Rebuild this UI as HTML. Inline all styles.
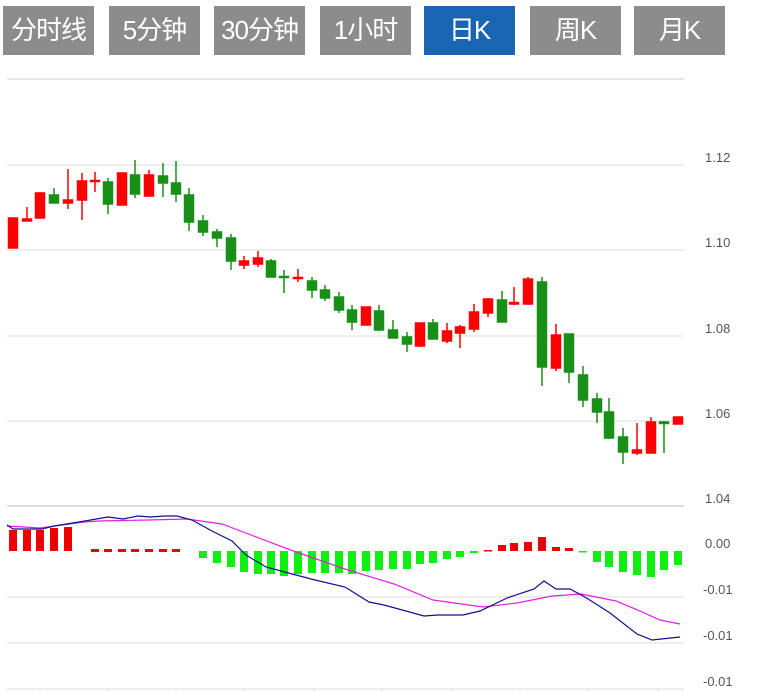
<!DOCTYPE html>
<html><head><meta charset="utf-8"><style>
body{margin:0;background:#fff;width:764px;height:692px;overflow:hidden;position:relative;font-family:"Liberation Sans","Noto Sans CJK SC",sans-serif}
.b{position:absolute;top:6px;height:49px;width:91px;background:#8c8c8c;color:#fff;font-size:26px;line-height:49px;text-align:center;letter-spacing:-1px}
.a{background:#1a64b4}
svg{position:absolute;left:0;top:0}
</style></head><body>
<div class="b" style="left:3px">分时线</div>
<div class="b" style="left:109px">5分钟</div>
<div class="b" style="left:214px">30分钟</div>
<div class="b" style="left:320px">1小时</div>
<div class="b a" style="left:424px">日K</div>
<div class="b" style="left:530px">周K</div>
<div class="b" style="left:634px">月K</div>
<svg width="764" height="692" xmlns="http://www.w3.org/2000/svg">
<g stroke="#ddd" stroke-width="1">
<line x1="7" y1="79" x2="684" y2="79" stroke-width="1.5"/>
<line x1="7" y1="165" x2="684" y2="165"/>
<line x1="7" y1="250" x2="684" y2="250"/>
<line x1="7" y1="336" x2="684" y2="336"/>
<line x1="7" y1="421" x2="684" y2="421"/>
<line x1="7" y1="506" x2="684" y2="506" stroke-width="2"/>
<line x1="7" y1="597" x2="684" y2="597"/>
<line x1="7" y1="643" x2="684" y2="643"/>
<line x1="7" y1="689" x2="684" y2="689"/>
<line x1="40" y1="689" x2="40" y2="692"/><line x1="108" y1="689" x2="108" y2="692"/><line x1="176" y1="689" x2="176" y2="692"/><line x1="245" y1="689" x2="245" y2="692"/><line x1="314" y1="689" x2="314" y2="692"/><line x1="382" y1="689" x2="382" y2="692"/><line x1="451" y1="689" x2="451" y2="692"/><line x1="520" y1="689" x2="520" y2="692"/><line x1="589" y1="689" x2="589" y2="692"/><line x1="658" y1="689" x2="658" y2="692"/>
</g>
<g font-size="13" fill="#555" font-family="Liberation Sans,sans-serif">
<text x="705" y="162">1.12</text><text x="705" y="247">1.10</text><text x="705" y="333">1.08</text><text x="705" y="418">1.06</text><text x="705" y="503">1.04</text>
<text x="705" y="548">0.00</text><text x="703" y="594">-0.01</text><text x="703" y="640">-0.01</text><text x="703" y="686">-0.01</text>
</g>
<g stroke-width="1.5">
<!-- red candles -->
<g fill="#f00" stroke="#f00">
<line x1="13" y1="218" x2="13" y2="248"/><rect x="8.5" y="218" width="9" height="30"/>
<line x1="27" y1="207" x2="27" y2="221"/><rect x="22.5" y="219" width="9" height="2"/>
<line x1="40" y1="192" x2="40" y2="218"/><rect x="35.5" y="193" width="9" height="25"/>
<line x1="68" y1="169" x2="68" y2="209"/><rect x="63.5" y="200" width="9" height="3"/>
<line x1="82" y1="173" x2="82" y2="220"/><rect x="77.5" y="181" width="9" height="19"/>
<line x1="95" y1="172" x2="95" y2="192"/><rect x="90.5" y="180.5" width="9" height="1"/>
<line x1="122" y1="173" x2="122" y2="205"/><rect x="117.5" y="173" width="9" height="32"/>
<line x1="149" y1="170" x2="149" y2="197"/><rect x="144.5" y="175" width="9" height="21"/>
<line x1="244" y1="256" x2="244" y2="269"/><rect x="239.5" y="261" width="9" height="4"/>
<line x1="258" y1="251" x2="258" y2="267"/><rect x="253.5" y="258" width="9" height="6"/>
<line x1="298" y1="269" x2="298" y2="282"/><rect x="293.5" y="277.5" width="9" height="1"/>
<line x1="366" y1="307" x2="366" y2="325"/><rect x="361.5" y="307" width="9" height="18"/>
<line x1="420" y1="323" x2="420" y2="347"/><rect x="415.5" y="323" width="9" height="23"/>
<line x1="447" y1="323" x2="447" y2="343"/><rect x="442.5" y="331" width="9" height="10"/>
<line x1="460" y1="325" x2="460" y2="348"/><rect x="455.5" y="327" width="9" height="6"/>
<line x1="474" y1="304" x2="474" y2="332"/><rect x="469.5" y="312" width="9" height="17"/>
<line x1="488" y1="298" x2="488" y2="317"/><rect x="483.5" y="299" width="9" height="14"/>
<line x1="514" y1="287" x2="514" y2="305"/><rect x="509.5" y="302.5" width="9" height="1.5"/>
<line x1="528" y1="277" x2="528" y2="304"/><rect x="523.5" y="279" width="9" height="25"/>
<line x1="556" y1="324" x2="556" y2="371"/><rect x="551.5" y="335" width="9" height="33"/>
<line x1="637" y1="423" x2="637" y2="455"/><rect x="632.5" y="450" width="9" height="3"/>
<line x1="651" y1="417" x2="651" y2="453"/><rect x="646.5" y="422" width="9" height="31"/>
<rect x="673.5" y="417" width="9" height="7"/>
</g>
<!-- green candles -->
<g fill="#189018" stroke="#189018">
<line x1="54" y1="188" x2="54" y2="203"/><rect x="49.5" y="195" width="9" height="8"/>
<line x1="108" y1="178" x2="108" y2="214"/><rect x="103.5" y="182" width="9" height="22"/>
<line x1="135" y1="160" x2="135" y2="198"/><rect x="130.5" y="175" width="9" height="19"/>
<line x1="163" y1="163" x2="163" y2="197"/><rect x="158.5" y="176" width="9" height="7"/>
<line x1="176" y1="161" x2="176" y2="202"/><rect x="171.5" y="183" width="9" height="11"/>
<line x1="189" y1="188" x2="189" y2="231"/><rect x="184.5" y="195" width="9" height="27"/>
<line x1="203" y1="215" x2="203" y2="236"/><rect x="198.5" y="221" width="9" height="11"/>
<line x1="217" y1="229" x2="217" y2="247"/><rect x="212.5" y="232" width="9" height="6"/>
<line x1="231" y1="234" x2="231" y2="270"/><rect x="226.5" y="238" width="9" height="23"/>
<line x1="271" y1="259" x2="271" y2="277"/><rect x="266.5" y="261" width="9" height="16"/>
<line x1="284" y1="270" x2="284" y2="293"/><rect x="279.5" y="276.5" width="9" height="1"/>
<line x1="312" y1="277" x2="312" y2="298"/><rect x="307.5" y="281" width="9" height="9"/>
<line x1="325" y1="285" x2="325" y2="301"/><rect x="320.5" y="290" width="9" height="8"/>
<line x1="339" y1="292" x2="339" y2="313"/><rect x="334.5" y="297" width="9" height="13"/>
<line x1="352" y1="305" x2="352" y2="330"/><rect x="347.5" y="310" width="9" height="12"/>
<line x1="379" y1="305" x2="379" y2="331"/><rect x="374.5" y="311" width="9" height="19"/>
<line x1="393" y1="320" x2="393" y2="338"/><rect x="388.5" y="330" width="9" height="8"/>
<line x1="407" y1="332" x2="407" y2="352"/><rect x="402.5" y="337" width="9" height="7"/>
<line x1="433" y1="319" x2="433" y2="339"/><rect x="428.5" y="323" width="9" height="16"/>
<line x1="502" y1="291" x2="502" y2="322"/><rect x="497.5" y="300" width="9" height="22"/>
<line x1="542" y1="277" x2="542" y2="386"/><rect x="537.5" y="282" width="9" height="85"/>
<line x1="569" y1="334" x2="569" y2="383"/><rect x="564.5" y="334" width="9" height="38"/>
<line x1="583" y1="366" x2="583" y2="407"/><rect x="578.5" y="375" width="9" height="25"/>
<line x1="597" y1="393" x2="597" y2="423"/><rect x="592.5" y="399" width="9" height="13"/>
<line x1="609" y1="398" x2="609" y2="439"/><rect x="604.5" y="412" width="9" height="26"/>
<line x1="623" y1="428" x2="623" y2="464"/><rect x="618.5" y="437" width="9" height="15"/>
<line x1="664" y1="421" x2="664" y2="453"/><rect x="659.5" y="422" width="9" height="1.5"/>
</g>
</g>
<!-- MACD bars -->
<g fill="#ee0000">
<rect x="9" y="530" width="8" height="21"/><rect x="23" y="530" width="8" height="21"/><rect x="36" y="530" width="8" height="21"/><rect x="50" y="528" width="8" height="23"/><rect x="64" y="527" width="8" height="24"/>
<rect x="91" y="549" width="8" height="3"/><rect x="104" y="549" width="8" height="3"/><rect x="118" y="549" width="8" height="3"/><rect x="131" y="549" width="8" height="3"/><rect x="145" y="549" width="8" height="3"/><rect x="159" y="549" width="8" height="3"/><rect x="172" y="549" width="8" height="3"/>
<rect x="484" y="550" width="8" height="1.5"/>
<rect x="498" y="545" width="8" height="6"/><rect x="510" y="543" width="8" height="8"/><rect x="524" y="542" width="8" height="9"/><rect x="538" y="537" width="8" height="14"/><rect x="552" y="547" width="8" height="4"/><rect x="565" y="548" width="8" height="3"/>
</g>
<g fill="#10f010">
<rect x="199" y="551" width="8" height="7"/><rect x="213" y="551" width="8" height="12"/><rect x="227" y="551" width="8" height="16"/><rect x="240" y="551" width="8" height="21"/><rect x="254" y="551" width="8" height="23"/><rect x="267" y="551" width="8" height="23"/><rect x="280" y="551" width="8" height="25"/><rect x="294" y="551" width="8" height="23"/><rect x="308" y="551" width="8" height="22"/><rect x="321" y="551" width="8" height="22"/><rect x="335" y="551" width="8" height="22"/><rect x="348" y="551" width="8" height="23"/><rect x="362" y="551" width="8" height="20"/><rect x="375" y="551" width="8" height="19"/><rect x="389" y="551" width="8" height="18"/><rect x="403" y="551" width="8" height="18"/><rect x="416" y="551" width="8" height="13"/><rect x="429" y="551" width="8" height="12"/><rect x="443" y="551" width="8" height="8"/><rect x="456" y="551" width="8" height="6"/><rect x="470" y="551" width="8" height="2"/>
<rect x="579" y="551" width="8" height="1.5"/><rect x="593" y="551" width="8" height="11"/><rect x="605" y="551" width="8" height="16"/><rect x="619" y="551" width="8" height="21"/><rect x="633" y="551" width="8" height="24"/><rect x="647" y="551" width="8" height="26"/><rect x="660" y="551" width="8" height="19"/><rect x="674" y="551" width="8" height="14"/>
</g>
<polyline fill="none" stroke="#e020e0" stroke-width="1.2" points="7,526 40,528 84,522 99,521 148,520 187,519 222,524 251,535 296,552 345,569 394,584 433,600 483,607 517,603 552,596 581,594 616,601 640,611 660,620 680,624"/>
<polyline fill="none" stroke="#101090" stroke-width="1.2" points="7,525 13,529 42,529 54,526 79,522 108,517 123,519 138,516 150,517 165,516 177,516 192,520 212,531 232,541 246,555 266,567 296,575 315,580 345,587 369,602 384,605 424,616 438,615 463,615 480,611 507,598 534,589 544,581 556,589 570,589 585,597 610,613 637,634 652,640 680,637"/>
</svg>
</body></html>
